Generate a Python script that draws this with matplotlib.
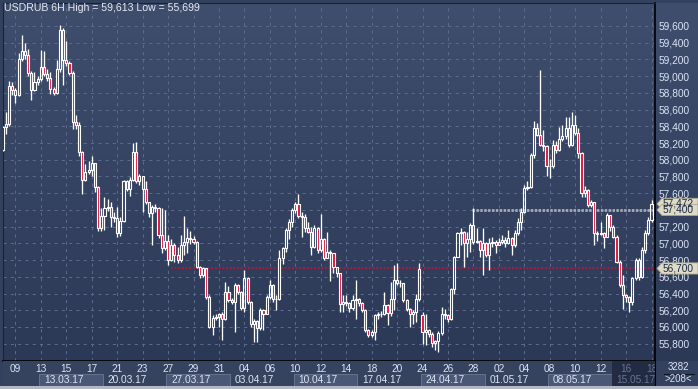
import matplotlib
matplotlib.use('Agg')
import matplotlib.pyplot as plt
import numpy as np
import pandas as pd
from matplotlib.colors import LinearSegmentedColormap
from matplotlib.patches import Rectangle, Polygon
from matplotlib.ticker import FuncFormatter
from matplotlib.transforms import blended_transform_factory

plt.rcParams['font.family'] = ['Liberation Sans', 'DejaVu Sans']

# USDRUB 6H candles, 08.03.17 .. 18.05.17
closes = [58390, 58430, 58880, 58840, 58780, 59200, 59300, 59250, 59040, 58840,
          58930, 58960, 59110, 59030, 58980, 58850, 58800, 59090, 59550, 59190,
          59160, 59040, 58450, 58420, 58090, 57760, 57850, 57880, 57960, 57680,
          57180, 57330, 57420, 57440, 57320, 57300, 57120, 57270, 57740, 57650,
          57760, 58090, 57740, 57800, 57650, 57500, 57360, 57440, 57420, 57100,
          56940, 57030, 56800, 56980, 56860, 56800, 56980, 57020, 57060, 57050,
          57020, 56720, 56620, 56700, 56360, 56000, 56110, 56120, 56160, 56090,
          56420, 56320, 56300, 56500, 56420, 56230, 56590, 56300, 56030, 56070,
          55990, 56200, 56160, 56360, 56500, 56330, 56340, 56820, 56940, 57160,
          57260, 57400, 57470, 57330, 57320, 57180, 57140, 56960, 57180, 56920,
          57050, 56830, 56900, 56880, 56720, 56640, 56280, 56300, 56290, 56230,
          56320, 56340, 56290, 56200, 55960, 55900, 55940, 56140, 56160, 56150,
          56260, 56170, 56340, 56560, 56530, 56520, 56320, 56220, 56160, 56180,
          56330, 56690, 55940, 55960, 55920, 55810, 55830, 55930, 56160, 56140,
          56090, 56460, 56840, 57120, 57140, 57000, 57050, 57220, 57020, 57030,
          56920, 57000, 56860, 57000, 57020, 56980, 57020, 57040, 57000, 57060,
          56980, 57120, 57260, 57380, 57660, 57680, 58060, 58380, 58300, 58180,
          58170, 57920, 57930, 58180, 58120, 58250, 58290, 58380, 58180, 58420,
          58320, 58080, 57600, 57640, 57460, 57500, 57120, 57110, 57120, 57080,
          57340, 57200, 57080, 56780, 56500, 56380, 56360, 56300, 56580, 56800,
          56600, 56920, 57120, 57280, 57472]
highs = [58400, 58570, 58940, 58930, 58860, 59280, 59490, 59400, 59330, 59060,
         59050, 59000, 59310, 59300, 59080, 59050, 58870, 59190, 59613, 59580,
         59420, 59180, 59060, 58540, 58450, 58100, 57950, 57990, 58040, 57960,
         57690, 57420, 57560, 57530, 57500, 57380, 57440, 57320, 57760, 57760,
         57790, 58200, 58210, 57830, 57780, 57750, 57500, 57460, 57470, 57440,
         57420, 57400, 57100, 57050, 57000, 56960, 57100, 57330, 57180, 57150,
         57090, 57030, 56730, 56720, 56710, 56380, 56140, 56150, 56170, 56180,
         56540, 56490, 56350, 56520, 56510, 56430, 56680, 56600, 56310, 56090,
         56080, 56230, 56220, 56380, 56560, 56510, 56380, 56920, 56960, 57180,
         57290, 57420, 57500, 57590, 57370, 57350, 57250, 57200, 57220, 57200,
         57350, 57060, 57140, 56920, 56880, 56720, 56650, 56380, 56380, 56300,
         56380, 56560, 56350, 56300, 56220, 55970, 55960, 56160, 56180, 56190,
         56420, 56270, 56540, 56740, 56760, 56560, 56530, 56330, 56230, 56200,
         56390, 56760, 56180, 56160, 55980, 55940, 55850, 55950, 56240, 56220,
         56160, 56470, 56850, 57140, 57180, 57150, 57140, 57240, 57419, 57180,
         57040, 57180, 57020, 57060, 57080, 57040, 57060, 57100, 57080, 57160,
         57080, 57160, 57300, 57420, 57700, 57750, 58080, 58460, 58440, 59073,
         58360, 58180, 58010, 58240, 58220, 58390, 58420, 58515, 58510, 58575,
         58540, 58380, 58090, 57690, 57650, 57520, 57500, 57150, 57250, 57130,
         57360, 57340, 57220, 57100, 56800, 56620, 56400, 56370, 56600, 56830,
         56820, 56960, 57160, 57320, 57520]
lows = [58110, 58310, 58400, 58780, 58680, 58760, 59180, 59200, 59000, 58720,
        58820, 58900, 58940, 59000, 58940, 58790, 58780, 58790, 59050, 58900,
        59120, 59010, 58370, 58370, 58040, 57590, 57750, 57830, 57800, 57620,
        57150, 57150, 57160, 57390, 57200, 57250, 57080, 57090, 57260, 57630,
        57570, 57740, 57720, 57700, 57380, 57470, 57320, 56980, 57380, 57060,
        56890, 56920, 56740, 56790, 56780, 56760, 56780, 56860, 56880, 56990,
        56990, 56700, 56580, 56600, 56330, 55990, 55900, 56080, 56000, 55850,
        56080, 56300, 56280, 55940, 56400, 56200, 56180, 56280, 56000, 55820,
        55820, 55960, 55960, 56150, 56340, 56300, 56200, 56320, 56750, 56900,
        57050, 57200, 57360, 57300, 57080, 57140, 57120, 56860, 56940, 56880,
        56900, 56800, 56820, 56550, 56650, 56600, 56180, 56180, 56250, 56180,
        56200, 56100, 56250, 56180, 55940, 55880, 55880, 55840, 56100, 56120,
        56140, 56020, 56130, 56200, 56500, 56480, 56300, 56190, 56000, 56040,
        56060, 56310, 55800, 55780, 55880, 55760, 55730, 55699, 55900, 56100,
        56060, 56080, 56400, 56860, 56980, 56720, 56840, 56900, 56990, 57000,
        56840, 56620, 56840, 56680, 56960, 56880, 56980, 56990, 56960, 56990,
        56860, 56960, 57100, 57160, 57360, 57640, 57660, 58020, 58280, 58160,
        58100, 57800, 57780, 57900, 58080, 58100, 58230, 58250, 58150, 58160,
        58300, 58020, 57560, 57560, 57440, 57440, 56980, 57030, 57100, 56940,
        57080, 57150, 57060, 56760, 56480, 56220, 56300, 56180, 56260, 56560,
        56560, 56580, 56880, 57100, 57260]
first_open = 58120
gap_opens = {132: 56140}          # Monday 24.04 opened with a gap down

support_level = 56700
resist_level = 57400
last_price = 57472
high_price, low_price = 59613, 55699
bar_count, shown_bars = 3282, 208

# 6H bars, weekdays only
days = pd.bdate_range('2017-03-08', '2017-05-17')
stamps = [d + pd.Timedelta(hours=h) for d in days for h in (0, 6, 12, 18)]
stamps.append(pd.Timestamp('2017-05-18'))

closes = np.array(closes, float)
opens = np.r_[first_open, closes[:-1]]
for i, v in gap_opens.items():
    opens[i] = v
body_hi = np.maximum(opens, closes)
body_lo = np.minimum(opens, closes)
highs = np.maximum(np.array(highs, float), body_hi)
lows = np.minimum(np.array(lows, float), body_lo)
x = np.arange(len(closes))

day_first = [i for i, t in enumerate(stamps) if t.hour == 0]
tick_idx = day_first[1::2]
tick_lab = [stamps[i].strftime('%d') for i in tick_idx]
week_idx = [i for i in day_first if stamps[i].weekday() == 0]
week_lab = [stamps[i].strftime('%d.%m.%y') for i in week_idx]

W, H = 698, 389
fig = plt.figure(figsize=(W / 100, H / 100), dpi=100)
fig.patch.set_facecolor('#34415e')

bg = LinearSegmentedColormap.from_list('bg', ['#404e6e', '#2b3856'])
grad = np.linspace(0, 1, 256).reshape(-1, 1)

xlim = (0.1, 205.1)
ylim = (55593, 59875)
TXT = '#dbe5f5'

# right price panel background
axr = fig.add_axes([655 / W, 1 - 361 / H, 43 / W, 358 / H], zorder=0)
axr.imshow(grad, cmap=bg, extent=(0, 1, 0, 1), aspect='auto')
axr.set_axis_off()

ax = fig.add_axes([3 / W, 1 - 361 / H, 652 / W, 358 / H], zorder=1)
ax.imshow(grad, cmap=bg, extent=(0, 1, 0, 1), transform=ax.transAxes,
          aspect='auto', zorder=0)
ax.set_xlim(*xlim)
ax.set_ylim(*ylim)
ax.set_yticks(np.arange(55800, 59601, 200))
ax.yaxis.set_major_formatter(FuncFormatter(lambda v, p: f'{v:,.0f}'))
ax.yaxis.tick_right()
ax.tick_params(axis='y', length=0, pad=2.5, labelcolor=TXT, labelsize=7.3)
ax.set_xticks(tick_idx)
ax.tick_params(axis='x', length=0, labelbottom=False)
ax.grid(True, color='#5b6a8c', linestyle=(0, (3, 4)), linewidth=0.75, zorder=1)
ax.set_axisbelow(True)
for s in ('top', 'left'):
    ax.spines[s].set_color('#1a2236')
for s in ('right', 'bottom'):
    ax.spines[s].set_color('#000000')
    ax.spines[s].set_linewidth(1.2)

# candles
ax.vlines(x, body_hi, highs, color='white', lw=0.95, zorder=3)
ax.vlines(x, lows, body_lo, color='white', lw=0.95, zorder=3)
face = ['none' if u else '#e4113c' for u in closes >= opens]
ax.bar(x, np.maximum(body_hi - body_lo, 8), bottom=body_lo, width=0.66,
       color=face, edgecolor='white', linewidth=0.8, zorder=4)

# drawn levels
ax.hlines(support_level, 53, xlim[1], colors='#d8102a', lw=1.1,
          linestyles=(0, (1.2, 1.2)), zorder=2)
ax.hlines(resist_level, 147.5, xlim[1], colors='#a8aab0', lw=2.0,
          linestyles=(0, (0.9, 0.5)), zorder=2)

ax.text(1 / 652, 1 - 5 / 358, f'USDRUB 6H High = {high_price:,} Low = {low_price:,}',
        transform=ax.transAxes, ha='left', va='center', color='#e6e9f0', fontsize=7.6)

# price callouts on the right scale
tr = blended_transform_factory(ax.transAxes, ax.transData)
hh = 5.6 * (ylim[1] - ylim[0]) / 358
for price in (last_price, resist_level, support_level):
    pts = [(1 + 2 / 652, price), (1 + 7 / 652, price + hh), (1 + 43 / 652, price + hh),
           (1 + 43 / 652, price - hh), (1 + 7 / 652, price - hh)]
    ax.add_patch(Polygon(pts, closed=True, transform=tr, clip_on=False,
                         facecolor='#dedac4', edgecolor='#a8a48e', lw=0.6, zorder=6))
    ax.text(1 + 8 / 652, price, f'{price:,}', transform=tr, ha='left', va='center',
            color='#1c2a4a', fontsize=7.3, zorder=7, clip_on=False)

# bottom time panel
axb = fig.add_axes([3 / W, 1 - 386 / H, 652 / W, 25 / H], zorder=2)
axb.set_xlim(*xlim)
axb.set_ylim(0, 1)
axb.set_facecolor('#36435f')
axb.set_xticks([])
axb.set_yticks([])
for s in axb.spines.values():
    s.set_visible(False)
ends = week_idx[1:] + [len(stamps) + 4]
for k, (a, b, lab) in enumerate(zip(week_idx, ends, week_lab)):
    if k == len(week_idx) - 1:
        axb.add_patch(Rectangle((a - 0.5, 0), b - a, 1, facecolor='#222b42', edgecolor='none'))
        col = '#67758f'
    else:
        if k % 2 == 0:
            axb.add_patch(Rectangle((a - 0.5, 0.02), b - a, 0.48, facecolor='#4a5776',
                                    edgecolor='#66738f', lw=0.7))
        col = TXT
    axb.text(a + 1, 0.25, lab, ha='left', va='center', color=col, fontsize=7.3,
             clip_on=True)
for i, lab in zip(tick_idx, tick_lab):
    col = '#67758f' if i >= week_idx[-1] else TXT
    axb.text(i, 0.7, lab, ha='center', va='center', color=col, fontsize=7.3, clip_on=True)

# bottom-right corner box
axc = fig.add_axes([655 / W, 1 - 386 / H, 43 / W, 25 / H], zorder=3)
axc.set_facecolor('#34415e')
axc.set_xlim(0, 1)
axc.set_ylim(0, 1)
axc.set_xticks([])
axc.set_yticks([])
for s in axc.spines.values():
    s.set_visible(False)
axc.axvline(0, color='#000000', lw=1.5)
axc.text(0.55, 0.74, f'{bar_count}', ha='center', va='center', color=TXT, fontsize=7)
axc.plot([0.2, 0.9], [0.49, 0.49], color='#0e1424', lw=0.8)
axc.text(0.55, 0.26, f'>{shown_bars}<', ha='center', va='center', color=TXT, fontsize=7)

# light frame at the very bottom
fig.add_artist(Rectangle((0, 0), 1, 3 / H, transform=fig.transFigure,
                         facecolor='#b4b8c2', edgecolor='none', zorder=0))

fig.savefig('out.png', dpi=100, facecolor=fig.get_facecolor())
